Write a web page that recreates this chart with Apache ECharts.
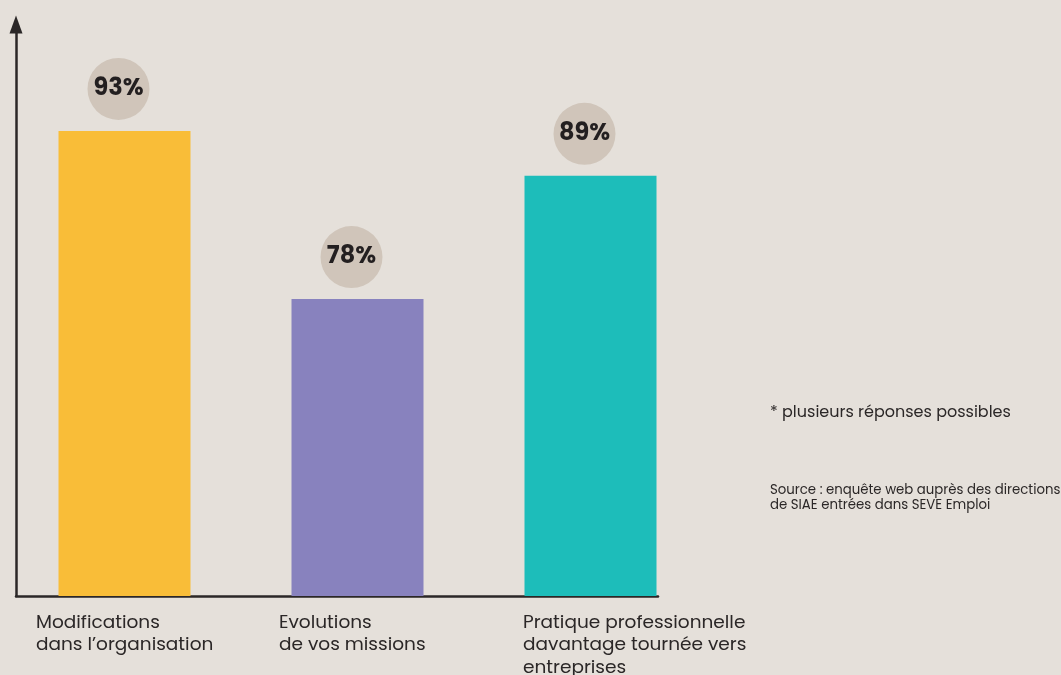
<!DOCTYPE html>
<html lang="fr">
<head>
<meta charset="UTF-8">
<title>Evolutions SEVE Emploi</title>
<script src="https://cdn.jsdelivr.net/npm/echarts@6/dist/echarts.min.js"></script>
<style>html,body{margin:0;background:#e5e0da;}</style>
</head>
<body>
<div id="main" style="width:1061px;height:675px;"></div>
<script>
var categories = [
  'Modifications\ndans l’organisation',
  'Evolutions\nde vos missions',
  'Pratique professionnelle\ndavantage tournée vers\nentreprises'
];
var values = [93, 78, 89];
var barColors = ['#f9bd38', '#8882be', '#1dbdba'];
var note = '* plusieurs réponses possibles';
var source = 'Source : enquête web auprès des directions\nde SIAE entrées dans SEVE Emploi';

// label boxes are centred on each bar; the text sits at the left of the box
var labelBoxWidth = [177, 157, 135];

var font = 'Poppins, Inter, sans-serif';
var ink = '#2b2727';

var myChart = echarts.init(document.getElementById('main'));

var rich = {};
labelBoxWidth.forEach(function (w, i) {
  rich['t' + i] = { width: w, align: 'left', fontSize: 18.5, lineHeight: 22.5, color: ink, fontFamily: font };
});

var option = {
  backgroundColor: '#e5e0da',
  animation: false,
  textStyle: { fontFamily: font },
  grid: [
    { left: 8, width: 699, top: 24.5, bottom: 79, outerBoundsMode: 'none' },
    { left: 16, width: 642, top: 24.5, bottom: 79, outerBoundsMode: 'none' }
  ],
  xAxis: [{
    gridIndex: 0,
    type: 'category',
    data: categories,
    axisLine: { show: false },
    axisTick: { show: false },
    axisLabel: {
      interval: 0,
      margin: 16,
      align: 'center',
      formatter: function (v, i) {
        return v.split('\n').map(function (l) { return '{t' + i + '|' + l + '}'; }).join('\n');
      },
      rich: rich
    }
  }, {
    gridIndex: 1,
    type: 'value',
    axisLine: { show: true, onZero: false, lineStyle: { color: ink, width: 2.5 } },
    axisTick: { show: false },
    axisLabel: { show: false },
    splitLine: { show: false }
  }],
  yAxis: [{
    gridIndex: 0,
    type: 'value',
    min: 51.5,
    max: 102.5,
    startValue: 51.5,
    show: false
  }, {
    gridIndex: 1,
    type: 'value',
    axisLine: {
      show: true,
      onZero: false,
      symbol: ['none', 'triangle'],
      symbolSize: [13, 18],
      lineStyle: { color: ink, width: 2.5 }
    },
    axisTick: { show: false },
    axisLabel: { show: false },
    splitLine: { show: false }
  }],
  series: [{
    type: 'bar',
    xAxisIndex: 0,
    yAxisIndex: 0,
    barWidth: 132,
    data: values.map(function (v, i) {
      return { value: v, itemStyle: { color: barColors[i] } };
    }),
    label: {
      show: true,
      position: 'top',
      distance: 11,
      offset: [-6, 0],
      formatter: '{c}%',
      width: 62,
      height: 62,
      lineHeight: 62,
      align: 'center',
      borderRadius: 31,
      backgroundColor: '#d0c5ba',
      color: '#231f20',
      fontSize: 24,
      fontWeight: 'bold',
      fontFamily: font
    }
  }],
  graphic: [{
    type: 'text',
    left: 770,
    top: 405,
    style: { text: note, fontSize: 16, fill: ink, fontFamily: font }
  }, {
    type: 'text',
    left: 770,
    top: 483,
    style: { text: source, fontSize: 13.3, lineHeight: 15, fill: ink, fontFamily: font }
  }]
};

myChart.setOption(option);
</script>
</body>
</html>
